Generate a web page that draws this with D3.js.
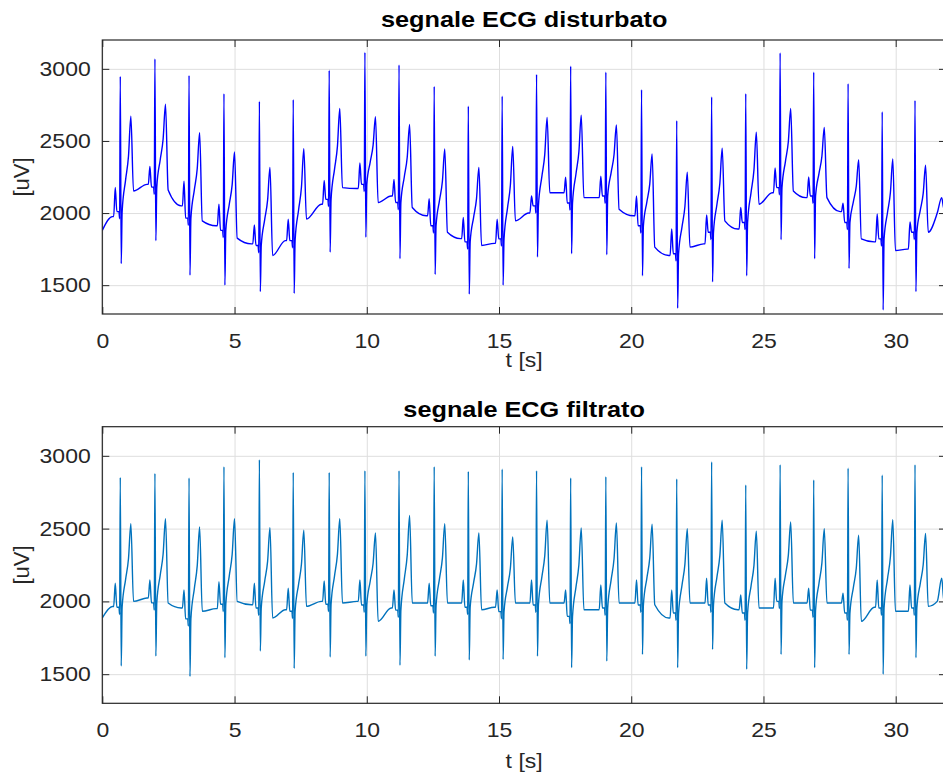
<!DOCTYPE html>
<html><head><meta charset="utf-8">
<script src="https://cdn.jsdelivr.net/npm/d3@7"></script>
<style>
body{margin:0;background:#fff;}
text{font-family:"Liberation Sans",Arial,Helvetica,sans-serif;}
</style>
</head><body>
<svg id="c" width="943" height="778"></svg>
<script>
// ---------- DATA ----------
const xTicks = [0, 5, 10, 15, 20, 25, 30];
const yTicks = [1500, 2000, 2500, 3000];
const titles = ["segnale ECG disturbato", "segnale ECG filtrato"];
const xLabel = "t [s]";
const yLabel = "[uV]";

// R-peak times (s)
const rTimes = [0.68, 1.99, 3.28, 4.60, 5.94, 7.22, 8.58, 9.93, 11.22, 12.55, 13.84, 15.12,
                16.42, 17.71, 19.04, 20.39, 21.72, 23.04, 24.33, 25.63, 26.90, 28.20, 29.49, 30.73];

// disturbed signal (uV)
const topStart = 1880;
const topR  = [2947, 3069, 2954, 2828, 2775, 2787, 2990, 3114, 3027, 2878, 2741, 2810,
               2961, 3018, 2977, 2856, 2640, 2805, 2828, 3110, 2977, 2897, 2702, 2781];
const topS  = [1649, 1809, 1569, 1500, 1455, 1443, 1729, 1832, 1683, 1574, 1438, 1500,
               1695, 1718, 1711, 1565, 1340, 1523, 1565, 1816, 1683, 1615, 1328, 1455];
const topT  = [2672, 2755, 2558, 2423, 2317, 2446, 2725, 2668, 2615, 2444, 2317, 2462,
               2663, 2679, 2611, 2409, 2283, 2450, 2560, 2725, 2594, 2370, 2375, 2331];
const topP  = [2178, 2324, 2221, 2061, 1917, 1958, 2226, 2348, 2233, 2100, 1970, 1958,
               2118, 2249, 2256, 2118, 1889, 1986, 2039, 2313, 2251, 2068, 1993, 1939];
const topB0 = [1975, 2199, 2050, 1912, 1786, 1809, 2061, 2170, 2118, 1981, 1823, 1790,
               2000, 2141, 2107, 1981, 1706, 1786, 1889, 2141, 2107, 2010, 1800, 1750];
const topBR = [2010, 2180, 1965, 1880, 1775, 1809, 2095, 2199, 2073, 1912, 1800, 1821,
               2050, 2070, 2118, 1912, 1718, 1867, 1935, 2176, 2118, 1935, 1821, 1867];
const topB1 = [2153, 2160, 1946, 1826, 1706, 1958, 2176, 2073, 2039, 1867, 1775, 1946,
               2141, 2107, 2027, 1764, 1764, 1946, 2061, 2153, 2107, 1821, 1740, 1867];

// filtered signal (uV)
const botStart = 1886;
const botR  = [2852, 2879, 2848, 2925, 2973, 2886, 2886, 2898, 2898, 2925, 2893, 2909,
               2898, 2848, 2857, 2925, 2841, 2959, 2800, 2939, 2834, 2916, 2868, 2939];
const botS  = [1556, 1624, 1484, 1613, 1659, 1540, 1618, 1624, 1561, 1624, 1597, 1602,
               1624, 1545, 1590, 1636, 1545, 1670, 1534, 1636, 1545, 1636, 1500, 1613];
const botT  = [2534, 2568, 2511, 2568, 2507, 2489, 2568, 2470, 2591, 2534, 2470, 2443,
               2557, 2505, 2538, 2530, 2500, 2557, 2482, 2545, 2500, 2454, 2561, 2466];
const botP  = [2125, 2147, 2079, 2136, 2125, 2091, 2140, 2147, 2079, 2125, 2147, 2079,
               2147, 2079, 2113, 2147, 2079, 2159, 2045, 2159, 2091, 2057, 2147, 2113];
const botB0 = [1965, 2023, 1955, 1950, 1977, 1943, 2000, 2000, 1955, 1989, 1989, 1960,
               1989, 1989, 1943, 1989, 1886, 1989, 1943, 1955, 1989, 1989, 1960, 1932];
const botBR = [1960, 1990, 1880, 1980, 1955, 1932, 1980, 1975, 1940, 1970, 1960, 1930,
               1975, 1897, 1955, 1975, 1920, 1975, 1920, 2000, 1940, 1920, 1955, 1955];
const botB1 = [2000, 1989, 1932, 2000, 1886, 1966, 1989, 1863, 1989, 1989, 1943, 1989,
               1989, 1943, 1989, 1977, 1989, 1989, 1955, 1989, 1989, 1863, 1932, 1966];

// partial beat at the right edge
const tailTimes = [31.57, 31.74, 31.82, 31.95];
const topTail   = [2000, 2107, 2030, 2040];
const botTail   = [2000, 2159, 2010, 2000];

// ---------- build series ----------
function buildSeries(start, R, S, T, P, B0, BR, B1, tail) {
  const pts = [[0, start]];
  rTimes.forEach((t, i) => {
    const br = BR[i], dT = T[i] - br;
    pts.push([t - 0.30, B0[i]]);
    pts.push([t - 0.25, B0[i]]);
    pts.push([t - 0.19, P[i]]);
    pts.push([t - 0.13, br]);
    pts.push([t - 0.05, br]);
    pts.push([t - 0.025, br - 50]);
    pts.push([t, R[i]]);
    pts.push([t + 0.035, S[i]]);
    pts.push([t + 0.07, br]);
    pts.push([t + 0.20, br + 0.33 * dT]);
    pts.push([t + 0.31, br + 0.58 * dT]);
    pts.push([t + 0.40, T[i]]);
    pts.push([t + 0.50, B1[i]]);
  });
  tailTimes.forEach((t, i) => pts.push([t, tail[i]]));
  return pts;
}
const topSeries = buildSeries(topStart, topR, topS, topT, topP, topB0, topBR, topB1, topTail);
const botSeries = buildSeries(botStart, botR, botS, botT, botP, botB0, botBR, botB1, botTail);

// ---------- drawing ----------
const svg = d3.select("#c");
svg.append("rect").attr("width", 943).attr("height", 778).attr("fill", "#fff");
const left = 102.3, right = 946;
const x0 = d3.scaleLinear().domain([0, 30]).range([left, 895.7]);
const x = d3.scaleLinear().domain([0, x0.invert(right)]).range([left, right]);
const axisCol = "#262626";
const fs = 20;          // axes font
const tfs = 22;         // title font
const sx = 1.15;        // horizontal stretch of the reference image text

function panel(idx, top, bottom, series, color, titleY, xlabY) {
  const y = d3.scaleLinear().domain([1300, 3200]).range([bottom, top]);
  const g = svg.append("g");
  const h = bottom - top;
  // grid
  g.append("g").attr("transform", `translate(0,${bottom})`)
    .call(d3.axisBottom(x).tickValues(xTicks).tickSize(-h).tickFormat(""))
    .call(s => { s.select(".domain").remove(); s.selectAll("line").attr("stroke", "#dedede").attr("stroke-width", 1); });
  g.append("g").attr("transform", `translate(${left},0)`)
    .call(d3.axisLeft(y).tickValues(yTicks).tickSize(-(right - left)).tickFormat(""))
    .call(s => { s.select(".domain").remove(); s.selectAll("line").attr("stroke", "#dedede").attr("stroke-width", 1); });

  // line
  const cid = "clip" + idx;
  svg.append("clipPath").attr("id", cid).append("rect")
    .attr("x", left).attr("y", top).attr("width", right - left).attr("height", h);
  g.append("path").datum(series)
    .attr("clip-path", `url(#${cid})`)
    .attr("fill", "none").attr("stroke", color).attr("stroke-width", 1.4)
    .attr("stroke-linejoin", "round")
    .attr("d", d3.line().x(d => x(d[0])).y(d => y(d[1])).curve(d3.curveMonotoneX));

  // axes with inward ticks
  const tl = 7;
  const ax = g.append("g").attr("transform", `translate(0,${bottom})`)
    .call(d3.axisBottom(x).tickValues(xTicks).tickSize(-tl).tickPadding(19.8).tickFormat(d3.format("d")));
  const axT = g.append("g").attr("transform", `translate(0,${top})`)
    .call(d3.axisTop(x).tickValues(xTicks).tickSize(-tl).tickFormat(""));
  const ay = g.append("g").attr("transform", `translate(${left},0)`)
    .call(d3.axisLeft(y).tickValues(yTicks).tickSize(-tl).tickPadding(11.6 / sx).tickFormat(d3.format("d")));
  const ayR = g.append("g").attr("transform", `translate(${right},0)`)
    .call(d3.axisRight(y).tickValues(yTicks).tickSize(-tl).tickFormat(""));
  [ax, axT, ay, ayR].forEach(a => {
    a.select(".domain").remove();
    a.selectAll("line").attr("stroke", axisCol).attr("stroke-width", 1);
    a.selectAll("text").attr("fill", axisCol).style("font-size", fs + "px")
      .style("font-family", '"Liberation Sans",Arial,sans-serif')
      .attr("transform", `scale(${sx},1)`);
  });
  g.append("rect").attr("x", left).attr("y", top).attr("width", right - left).attr("height", h)
    .attr("fill", "none").attr("stroke", axisCol).attr("stroke-width", 1.2);

  // title
  g.append("text").attr("transform", `translate(${(left + right) / 2},${titleY}) scale(${sx},1)`)
    .attr("text-anchor", "middle")
    .style("font-size", tfs + "px").style("font-weight", "bold").attr("fill", "#000").text(titles[idx]);
  // x label
  g.append("text").attr("transform", `translate(${(left + right) / 2},${xlabY}) scale(${sx},1)`)
    .attr("text-anchor", "middle")
    .style("font-size", fs + "px").attr("fill", axisCol).text(xLabel);
  // y label
  g.append("text").attr("transform", `translate(29,${(top + bottom) / 2}) rotate(-90)`)
    .attr("text-anchor", "middle").style("font-size", "22px").attr("fill", axisCol).text(yLabel);
}

panel(0, 40, 314, topSeries, "#0000ff", 27, 367);
panel(1, 426.7, 703.3, botSeries, "#0072bd", 417, 768);
</script>
</body></html>
